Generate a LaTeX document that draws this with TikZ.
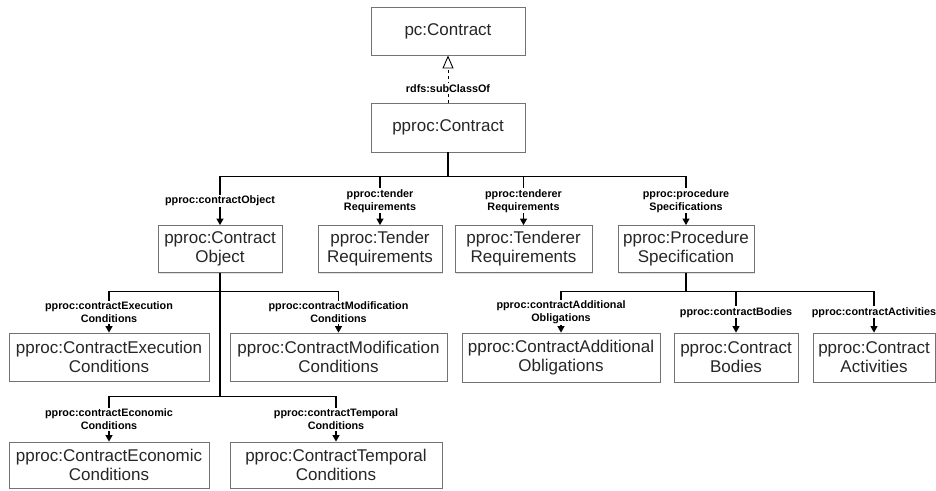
\documentclass[tikz,border=0pt]{standalone}
\usepackage{fontspec}
\setmainfont{Liberation Sans}
\usepackage{tikz}
\usetikzlibrary{arrows.meta, positioning, shadows}
\tikzset{>={Triangle[length=6.5pt,width=7pt]}}
\tikzset{
  cls/.style={draw=black!55, line width=0.8pt, fill=white, align=center, inner sep=0pt,
    font=\fontsize{17}{19}\selectfont, text=black!85, minimum height=47pt,
    drop shadow={shadow xshift=1.3pt, shadow yshift=-1.3pt, fill=black!12, opacity=1}},
  prop/.style={fill=white, inner sep=1pt, align=center, font=\bfseries\fontsize{10.8}{13}\selectfont},
  rel/.style={->, line width=1.1pt}
}

\begin{document}
\begin{tikzpicture}[x=1pt,y=1pt]
\useasboundingbox (0,0) rectangle (936,-490);

% classes
\node[cls, minimum width=154pt, minimum height=48pt] (pc) at (448,-31){pc:Contract};
\node[cls, minimum width=154pt, minimum height=49pt] (ppc) at (448,-127.5){pproc:Contract};

\node[cls, minimum width=124pt] (obj) at (220,-249){pproc:Contract\\Object};
\node[cls, minimum width=124pt] (tender) at (380,-249){pproc:Tender\\Requirements};
\node[cls, minimum width=137pt] (tenderer) at (523.5,-249){pproc:Tenderer\\Requirements};
\node[cls, minimum width=136pt] (spec) at (686,-249){pproc:Procedure\\Specification};

\node[cls, minimum width=200pt, minimum height=48pt] (exec) at (109,-357){pproc:ContractExecution\\Conditions};
\node[cls, minimum width=217pt, minimum height=48pt] (modif) at (338.5,-357){pproc:ContractModification\\Conditions};
\node[cls, minimum width=200pt, minimum height=46pt] (econ) at (109,-465){pproc:ContractEconomic\\Conditions};
\node[cls, minimum width=212pt, minimum height=46pt] (temp) at (336,-465){pproc:ContractTemporal\\Conditions};

\node[cls, minimum width=198pt, minimum height=49pt] (oblig) at (561,-357.5){pproc:ContractAdditional\\Obligations};
\node[cls, minimum width=124pt, minimum height=49pt] (bodies) at (736,-357.5){pproc:Contract\\Bodies};
\node[cls, minimum width=122pt, minimum height=49pt] (activ) at (874,-357.5){pproc:Contract\\Activities};

% subclass
\draw[dashed, line width=0.9pt, -{Triangle[open,length=13pt,width=11pt]}] (ppc.north) -- node[prop, pos=0.3]{rdfs:subClassOf} (pc.south);

% properties
\draw[rel] (ppc.south) -- ++(0,-24) -| node[prop, pos=0.75]{pproc:contractObject} (obj.north);
\draw[rel] (ppc.south) -- ++(0,-24) -| node[prop, pos=0.75]{pproc:tender\\Requirements} (tender.north);
\draw[rel] (ppc.south) -- ++(0,-24) -| node[prop, pos=0.75]{pproc:tenderer\\Requirements} (tenderer.north);
\draw[rel] (ppc.south) -- ++(0,-24) -| node[prop, pos=0.75]{pproc:procedure\\Specifications} (spec.north);

\draw[rel] (obj.south) -- ++(0,-19) -| node[prop, pos=0.75]{pproc:contractExecution\\Conditions} (exec.north);
\draw[rel] (obj.south) -- ++(0,-19) -| node[prop, pos=0.75]{pproc:contractModification\\Conditions} (modif.north);
\draw[rel] (obj.south) -- ++(0,-124) -| node[prop, pos=0.75]{pproc:contractEconomic\\Conditions} (econ.north);
\draw[rel] (obj.south) -- ++(0,-124) -| node[prop, pos=0.75]{pproc:contractTemporal\\Conditions} (temp.north);

\draw[rel] (spec.south) -- ++(0,-19) -| node[prop, pos=0.75]{pproc:contractAdditional\\Obligations} (oblig.north);
\draw[rel] (spec.south) -- ++(0,-19) -| node[prop, pos=0.75]{pproc:contractBodies} (bodies.north);
\draw[rel] (spec.south) -- ++(0,-19) -| node[prop, pos=0.75]{pproc:contractActivities} (activ.north);
\end{tikzpicture}
\end{document}
